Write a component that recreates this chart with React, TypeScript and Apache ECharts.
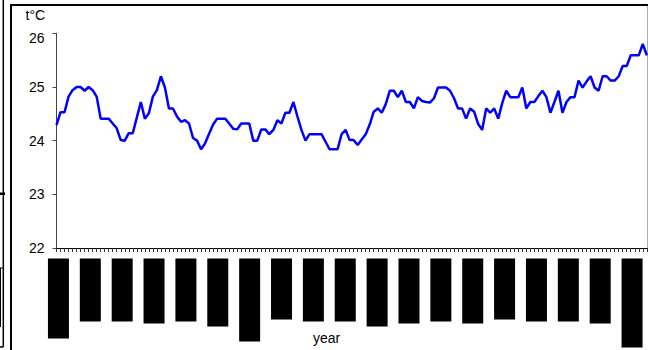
import React, { useEffect, useRef } from "react";
import * as echarts from "echarts";

// Mean temperature (°C), one value per year step
const temperature = [
  24.29, 24.53, 24.53, 24.82, 24.94, 25.0, 25.0, 24.93, 25.0, 24.94,
  24.82, 24.41, 24.41, 24.41, 24.32, 24.23, 24.01, 24.0, 24.14, 24.14,
  24.43, 24.72, 24.41, 24.51, 24.82, 24.94, 25.2, 24.99, 24.6, 24.6,
  24.45, 24.35, 24.38, 24.32, 24.05, 24.0, 23.84, 23.95, 24.13, 24.3,
  24.41, 24.41, 24.41, 24.32, 24.22, 24.21, 24.32, 24.32, 24.32, 24.0,
  24.0, 24.21, 24.21, 24.12, 24.2, 24.38, 24.32, 24.52, 24.52, 24.72,
  24.45, 24.2, 24.0, 24.12, 24.12, 24.12, 24.12, 23.98, 23.84, 23.84,
  23.84, 24.12, 24.2, 24.01, 24.01, 23.92, 24.02, 24.12, 24.3, 24.54,
  24.6, 24.52, 24.68, 24.93, 24.93, 24.81, 24.93, 24.72, 24.72, 24.6,
  24.81, 24.74, 24.72, 24.71, 24.79, 24.99, 24.99, 24.99, 24.93, 24.79,
  24.6, 24.6, 24.41, 24.6, 24.54, 24.31, 24.2, 24.6, 24.52, 24.6,
  24.41, 24.7, 24.93, 24.81, 24.81, 24.81, 24.99, 24.6, 24.72, 24.72,
  24.83, 24.93, 24.81, 24.52, 24.72, 24.93, 24.52, 24.72, 24.81, 24.81,
  25.12, 24.99, 25.1, 25.2, 24.99, 24.93, 25.2, 25.2, 25.12, 25.12,
  25.2, 25.39, 25.39, 25.59, 25.59, 25.59, 25.8, 25.59,
];

const yearSteps = temperature.map((_, i) => String(i + 1));

// Y axis range / ticks
const yMin = 22;
const yMax = 26;
const yStep = 1;

// The year labels below the axis are rendered as solid black blocks;
// one block per labelled year, lengths.
const labelSlots = [
  "1", "2", "3", "4", "5", "6", "7", "8", "9", "10",
  "11", "12", "13", "14", "15", "16", "17", "18", "19",
];
const labelBlockLengths = [
  80, 63, 63, 65, 63, 68, 83, 61, 63, 63, 68, 65, 63, 65, 61, 63, 63, 65, 89,
];

const FONT = "'Liberation Sans', Arial, sans-serif";

export default function App() {
  const ref = useRef<HTMLDivElement>(null);

  useEffect(() => {
    const chart = echarts.init(ref.current!, null, { renderer: "svg" });
    chart.setOption({
      animation: false,
      backgroundColor: "#fff",
      textStyle: { fontFamily: FONT },
      grid: [
        { left: 56.5, top: 33.3, width: 590.3, height: 214.7 },
        { left: 42.5, top: 258.5, width: 608, height: 91.5 },
      ],
      xAxis: [
        {
          type: "category",
          gridIndex: 0,
          data: yearSteps,
          boundaryGap: false,
          axisLine: { show: true, lineStyle: { color: "#000", width: 1 } },
          axisTick: {
            show: true,
            interval: 0,
            length: 4,
            lineStyle: { color: "#333", width: 1 },
          },
          axisLabel: { show: false },
          splitLine: { show: false },
        },
        {
          type: "category",
          gridIndex: 1,
          data: labelSlots,
          show: false,
        },
      ],
      yAxis: [
        {
          type: "value",
          gridIndex: 0,
          min: yMin,
          max: yMax,
          interval: yStep,
          axisLine: { show: true, lineStyle: { color: "#444", width: 1 } },
          axisTick: { show: true, length: 4, lineStyle: { color: "#444" } },
          splitLine: { show: false },
          axisLabel: {
            color: "#000",
            fontSize: 14,
            fontFamily: FONT,
            margin: 12,
            formatter: (v: number) => (v === yMax ? "{low|" + v + "}" : String(v)),
            rich: {
              low: {
                fontSize: 14,
                fontFamily: FONT,
                color: "#000",
                padding: [9, 0, 0, 0],
              },
            },
          },
        },
        {
          type: "value",
          gridIndex: 1,
          inverse: true,
          min: 0,
          max: 91.5,
          show: false,
        },
      ],
      series: [
        {
          type: "line",
          xAxisIndex: 0,
          yAxisIndex: 0,
          data: temperature,
          showSymbol: false,
          lineStyle: { color: "#0000ff", width: 2.5 },
          itemStyle: { color: "#0000ff" },
        },
        {
          type: "bar",
          xAxisIndex: 1,
          yAxisIndex: 1,
          data: labelBlockLengths,
          barWidth: 21,
          itemStyle: { color: "#000" },
        },
      ],
      graphic: [
        {
          type: "rect",
          shape: { x: 11, y: 5, width: 700, height: 400 },
          style: { fill: "none", stroke: "#000", lineWidth: 2 },
          silent: true,
        },
        {
          type: "line",
          shape: { x1: 647.5, y1: 6, x2: 647.5, y2: 248 },
          style: { stroke: "#aaa", lineWidth: 1 },
        },
        {
          type: "line",
          shape: { x1: 3.3, y1: 0, x2: 3.3, y2: 347 },
          style: { stroke: "#000", lineWidth: 1.5 },
        },
        {
          type: "line",
          shape: { x1: 0, y1: 347, x2: 3.3, y2: 347 },
          style: { stroke: "#000", lineWidth: 1.5 },
        },
        {
          type: "rect",
          shape: { x: 0, y: 192.5, width: 5, height: 2.5 },
          style: { fill: "#000" },
        },
        {
          type: "line",
          shape: { x1: 0, y1: 268, x2: 3.3, y2: 268 },
          style: { stroke: "#000", lineWidth: 1 },
        },
        {
          type: "line",
          shape: { x1: 0.5, y1: 268, x2: 0.5, y2: 327 },
          style: { stroke: "#000", lineWidth: 1 },
        },
        {
          type: "text",
          x: 25.5,
          y: 14.5,
          style: {
            text: "t°C",
            fontSize: 14,
            fontFamily: FONT,
            fill: "#000",
            verticalAlign: "middle",
            align: "left",
          },
        },
        {
          type: "text",
          x: 313,
          y: 338,
          style: {
            text: "year",
            fontSize: 14,
            fontFamily: FONT,
            fill: "#000",
            verticalAlign: "middle",
            align: "left",
          },
        },
      ],
    });
    return () => chart.dispose();
  }, []);

  return (
    <div
      ref={ref}
      style={{
        position: "absolute",
        left: 0,
        top: 0,
        width: 648,
        height: 350,
        background: "#fff",
      }}
    />
  );
}
